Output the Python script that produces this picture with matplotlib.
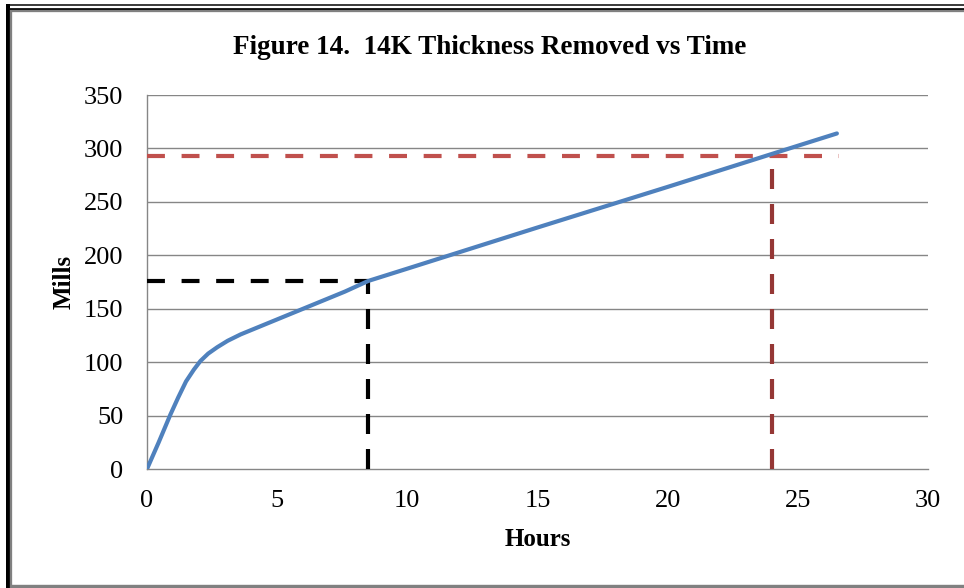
import matplotlib
matplotlib.use("Agg")
import matplotlib.pyplot as plt
from matplotlib.lines import Line2D

# --- data ---
hours = [0, 0.45, 0.9, 1.2, 1.5, 1.8, 2.05, 2.35, 2.7, 3.1, 3.6, 4.2, 5.0, 5.8, 6.7, 7.6, 8.5,
         10, 15, 20, 25, 26.5]
mills = [0, 25, 51, 67, 82, 93, 101, 108, 114, 120, 126, 132, 140, 148, 157, 166, 176,
         187.5, 226, 264, 302.5, 314]

# reference markers
t_mid, m_mid = 8.5, 176
t_end, m_end = 24, 293
x_ref_end = 26.6

x_ticks = [0, 5, 10, 15, 20, 25, 30]
y_ticks = [0, 50, 100, 150, 200, 250, 300, 350]

plt.rcParams["font.family"] = ["Liberation Serif", "DejaVu Serif"]

fig = plt.figure(figsize=(9.64, 5.88), dpi=100)
ax = fig.add_axes([147/964, 1 - 469/588, (928 - 147)/964, (469 - 95)/588])

grid_c = "#868686"
for y in y_ticks[1:]:
    ax.axhline(y, color=grid_c, lw=1.0, zorder=1)

ax.plot(hours, mills, color="#4F81BD", lw=3.0, solid_capstyle="round", solid_joinstyle="round", zorder=4)

# black guide at 8.5 h
ax.plot([0, t_mid], [m_mid, m_mid], color="black", lw=3, ls=(0, (4.3, 4.0)), zorder=3)
ax.plot([t_mid, t_mid], [0, m_mid], color="black", lw=3, ls=(0, (4.8, 3.6)), zorder=3)
# red guide at 24 h
ax.plot([0, x_ref_end], [m_end, m_end], color="#C0504D", lw=3, ls=(0, (4.3, 4.0)), zorder=3)
ax.plot([t_end, t_end], [0, m_end], color="#953735", lw=3, ls=(0, (4.8, 3.6)), zorder=3)

ax.set_xlim(0, 30)
ax.set_ylim(0, 350)
ax.set_xticks(x_ticks)
ax.set_yticks(y_ticks)
ax.tick_params(length=0, labelsize=19, pad=15)
ax.tick_params(axis="y", pad=17)
for s in ["top", "right"]:
    ax.spines[s].set_visible(False)
for s in ["left", "bottom"]:
    ax.spines[s].set_color(grid_c)
    ax.spines[s].set_linewidth(1.0)

ax.set_xlabel("Hours", fontsize=18, fontweight="bold", labelpad=12)
ax.set_ylabel("Mills", fontsize=18, fontweight="bold", labelpad=6)
fig.text(490/964, 1 - 47/588, "Figure 14.  14K Thickness Removed vs Time",
         ha="center", va="center", fontsize=19.5, fontweight="bold")

# frame around the chart
def fline(x0, y0, x1, y1, c, w):
    fig.add_artist(Line2D([x0/964, x1/964], [1 - y0/588, 1 - y1/588], color=c, lw=w * 0.72,
                          solid_capstyle="butt", transform=fig.transFigure))

fline(6, 5, 964, 5, "black", 1.5)
fline(6, 8.6, 964, 8.6, "black", 2.7)
fline(10, 11.2, 964, 11.2, "#808080", 2.3)
fline(8, 4.3, 8, 588, "black", 4)
fline(11.2, 10, 11.2, 588, "#808080", 2.3)
fline(10, 586.3, 964, 586.3, "#808080", 3.4)

fig.savefig("out.png", dpi=100)
